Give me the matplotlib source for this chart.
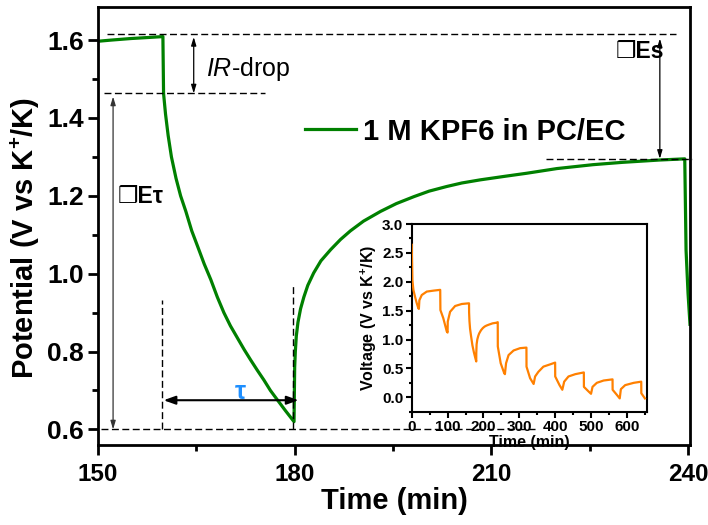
import numpy as np
import matplotlib
matplotlib.use('Agg')
import matplotlib.pyplot as plt
from matplotlib.ticker import MultipleLocator

plt.rcParams['font.family'] = ['Liberation Sans', 'DejaVu Sans']
plt.rcParams['font.weight'] = 'bold'
plt.rcParams['mathtext.fontset'] = 'custom'
plt.rcParams['mathtext.rm'] = 'Liberation Sans'
plt.rcParams['mathtext.it'] = 'Liberation Sans:italic:normal'
plt.rcParams['mathtext.bf'] = 'Liberation Sans:bold'

# main GITT step (one pulse + relaxation)
main_t = [150, 152, 155, 158, 159.9, 160.0, 160.3, 160.7, 161.2, 161.9, 162.6, 163.4,
          164.3, 165.2, 166.2, 167.2, 168.2, 169.2, 170.2, 171.3, 172.3, 173.3, 174.3,
          175.3, 176.3, 177.4, 178.6, 179.9, 180.0, 180.1, 180.25, 180.5, 180.9, 181.4,
          182.0, 182.9, 184, 185.5, 187, 188.5, 190.5, 193.1, 195.5, 198.2, 200.5,
          203.2, 205.5, 208.3, 212, 215.4, 220, 225.5, 230, 235.7, 239.5, 239.7,
          240.0, 240.3]
main_v = [1.597, 1.600, 1.604, 1.607, 1.609, 1.463, 1.41, 1.355, 1.30, 1.245, 1.20, 1.16,
          1.11, 1.07, 1.025, 0.985, 0.94, 0.90, 0.866, 0.834, 0.805, 0.778, 0.752,
          0.727, 0.70, 0.675, 0.648, 0.62, 0.76, 0.80, 0.84, 0.875, 0.91, 0.94,
          0.97, 1.002, 1.033, 1.062, 1.088, 1.11, 1.135, 1.160, 1.18, 1.198, 1.212,
          1.224, 1.233, 1.241, 1.25, 1.258, 1.27, 1.28, 1.286, 1.292, 1.295, 1.06,
          0.95, 0.87]

# full GITT profile for the inset
inset_t = [0, 1.9, 4.7, 9.3, 14, 18.6, 20, 21.4, 28, 42, 60.5, 79.5,
           80, 88, 97.7, 100, 100.5, 107, 121, 139.5, 159.8,
           160, 161, 162.6, 165.2, 169.2, 173.3, 177.3, 179.9, 180, 180.9, 182.9,
           185.5, 188, 193.1, 198.2, 203.2, 208.3, 215.4, 225.5, 235.7, 239.8,
           240, 248, 257.7, 259.8, 263, 270, 284, 302, 319.8,
           320, 330, 339.8, 344, 353, 367, 386, 399.8,
           400, 412, 419.8, 425, 437, 456, 479.8,
           480, 493, 499.8, 504, 516, 535, 559.8,
           560, 572, 579.8, 583, 595, 619, 639.8,
           640, 650]
inset_v = [2.64, 2.03, 1.86, 1.74, 1.63, 1.54, 1.53, 1.68, 1.77, 1.83, 1.846, 1.86,
           1.51, 1.37, 1.14, 1.12, 1.31, 1.48, 1.58, 1.615, 1.627,
           1.47, 1.32, 1.19, 1.07, 0.90, 0.78, 0.68, 0.62, 0.76, 0.916, 1.002,
           1.062, 1.104, 1.160, 1.198, 1.224, 1.241, 1.258, 1.28, 1.29, 1.30,
           0.88, 0.59, 0.42, 0.40, 0.59, 0.73, 0.81, 0.85, 0.86,
           0.53, 0.33, 0.23, 0.36, 0.44, 0.53, 0.57, 0.60,
           0.36, 0.21, 0.13, 0.27, 0.36, 0.40, 0.43,
           0.18, 0.10, 0.06, 0.18, 0.25, 0.29, 0.31,
           0.13, 0.04, -0.02, 0.14, 0.21, 0.25, 0.27,
           0.07, -0.02]

fig = plt.figure(figsize=(7.08, 5.25), dpi=100)
ax = fig.add_axes([98 / 708, 80 / 525, 592 / 708, 438 / 525])

ax.plot(main_t, main_v, color='#008000', lw=2.3, label='1 M KPF6 in PC/EC')

ax.set_xlim(150, 240.3)
ax.set_ylim(0.56, 1.685)
ax.xaxis.set_major_locator(MultipleLocator(30))
ax.xaxis.set_minor_locator(MultipleLocator(15))
ax.yaxis.set_major_locator(MultipleLocator(0.2))
ax.yaxis.set_minor_locator(MultipleLocator(0.1))
ax.tick_params(which='major', direction='out', length=7, width=2, pad=3)
ax.tick_params(axis='y', labelsize=19)
ax.tick_params(axis='x', labelsize=17.5, pad=6)
ax.tick_params(which='minor', direction='out', length=4, width=2)
ax.tick_params(top=False, right=False)
for s in ax.spines.values():
    s.set_linewidth(2)
ax.set_xlabel('Time (min)', fontsize=21, fontweight='bold', labelpad=1)
ax.set_ylabel(r'Potential (V vs K$^{\mathbf{+}}$/K)', fontsize=21, fontweight='bold')
ax.yaxis.set_label_coords(-0.095, 0.4726)

# guide lines
dash = dict(color='k', lw=1, ls=(0, (5, 2.5)))
ax.plot([151.4, 238.2], [1.615, 1.615], **dash)
ax.plot([150.9, 175.5], [1.463, 1.463], **dash)
ax.plot([150.5, 217], [0.6, 0.6], **dash)
ax.plot([218.3, 240.6], [1.295, 1.295], clip_on=False, **dash)
ax.plot([159.8, 159.8], [0.6, 0.932], **dash)
ax.plot([179.8, 179.8], [0.6, 0.968], **dash)

thin = dict(arrowstyle='<|-|>,head_length=0.5,head_width=0.15', color='k', lw=0.9,
            shrinkA=0, shrinkB=0)
ax.annotate('', xy=(164.6, 1.463), xytext=(164.6, 1.608), arrowprops=thin)
ax.annotate('', xy=(152.3, 0.6), xytext=(152.3, 1.455),
            arrowprops=dict(thin, color='#333333'))
ax.annotate('', xy=(235.7, 1.295), xytext=(235.7, 1.604), arrowprops=thin)
ax.annotate('', xy=(160.0, 0.675), xytext=(180.6, 0.675),
            arrowprops=dict(arrowstyle='<|-|>,head_length=0.7,head_width=0.25',
                            color='k', lw=1.5, shrinkA=0, shrinkB=0))

ax.text(166.5, 1.527, r'$\mathit{IR}$-drop', fontsize=18, fontweight='normal', va='center')
ax.text(153.0, 1.197, '\u2752E\u03c4', fontsize=16.5, fontweight='bold', va='center')
ax.text(228.9, 1.57, '\u2752Es', fontsize=16.5, fontweight='bold', va='center')
ax.text(171.7, 0.695, '\u03c4', fontsize=18, color='#1E8FFF', ha='center', va='center')

ax.legend(loc='center left', bbox_to_anchor=(305 / 708, 1 - 131.7 / 525),
          bbox_transform=fig.transFigure, frameon=False, borderpad=0, borderaxespad=0,
          handlelength=1.75, handletextpad=0.25, fontsize=21)

# inset
ax_in = fig.add_axes([411.7 / 708, 113.3 / 525, 235 / 708, 187.7 / 525])
ax_in.plot(inset_t, inset_v, color='#FF8000', lw=1.6, zorder=3)
ax_in.set_xlim(0, 655)
ax_in.set_ylim(-0.25, 3.0)
ax_in.xaxis.set_major_locator(MultipleLocator(100))
ax_in.xaxis.set_minor_locator(MultipleLocator(50))
ax_in.yaxis.set_major_locator(MultipleLocator(0.5))
ax_in.yaxis.set_minor_locator(MultipleLocator(0.25))
ax_in.tick_params(which='major', direction='out', length=4, width=1.5, labelsize=11, pad=2)
ax_in.tick_params(which='minor', direction='out', length=2.5, width=1.5)
for s in ax_in.spines.values():
    s.set_linewidth(1.5)
ax_in.set_xlabel('Time (min)', fontsize=11.5, fontweight='bold', labelpad=1)
ax_in.set_ylabel(r'Voltage (V vs K$^{\mathbf{+}}$/K)', fontsize=11.5, fontweight='bold', labelpad=2)

fig.savefig('out.png', dpi=100)
